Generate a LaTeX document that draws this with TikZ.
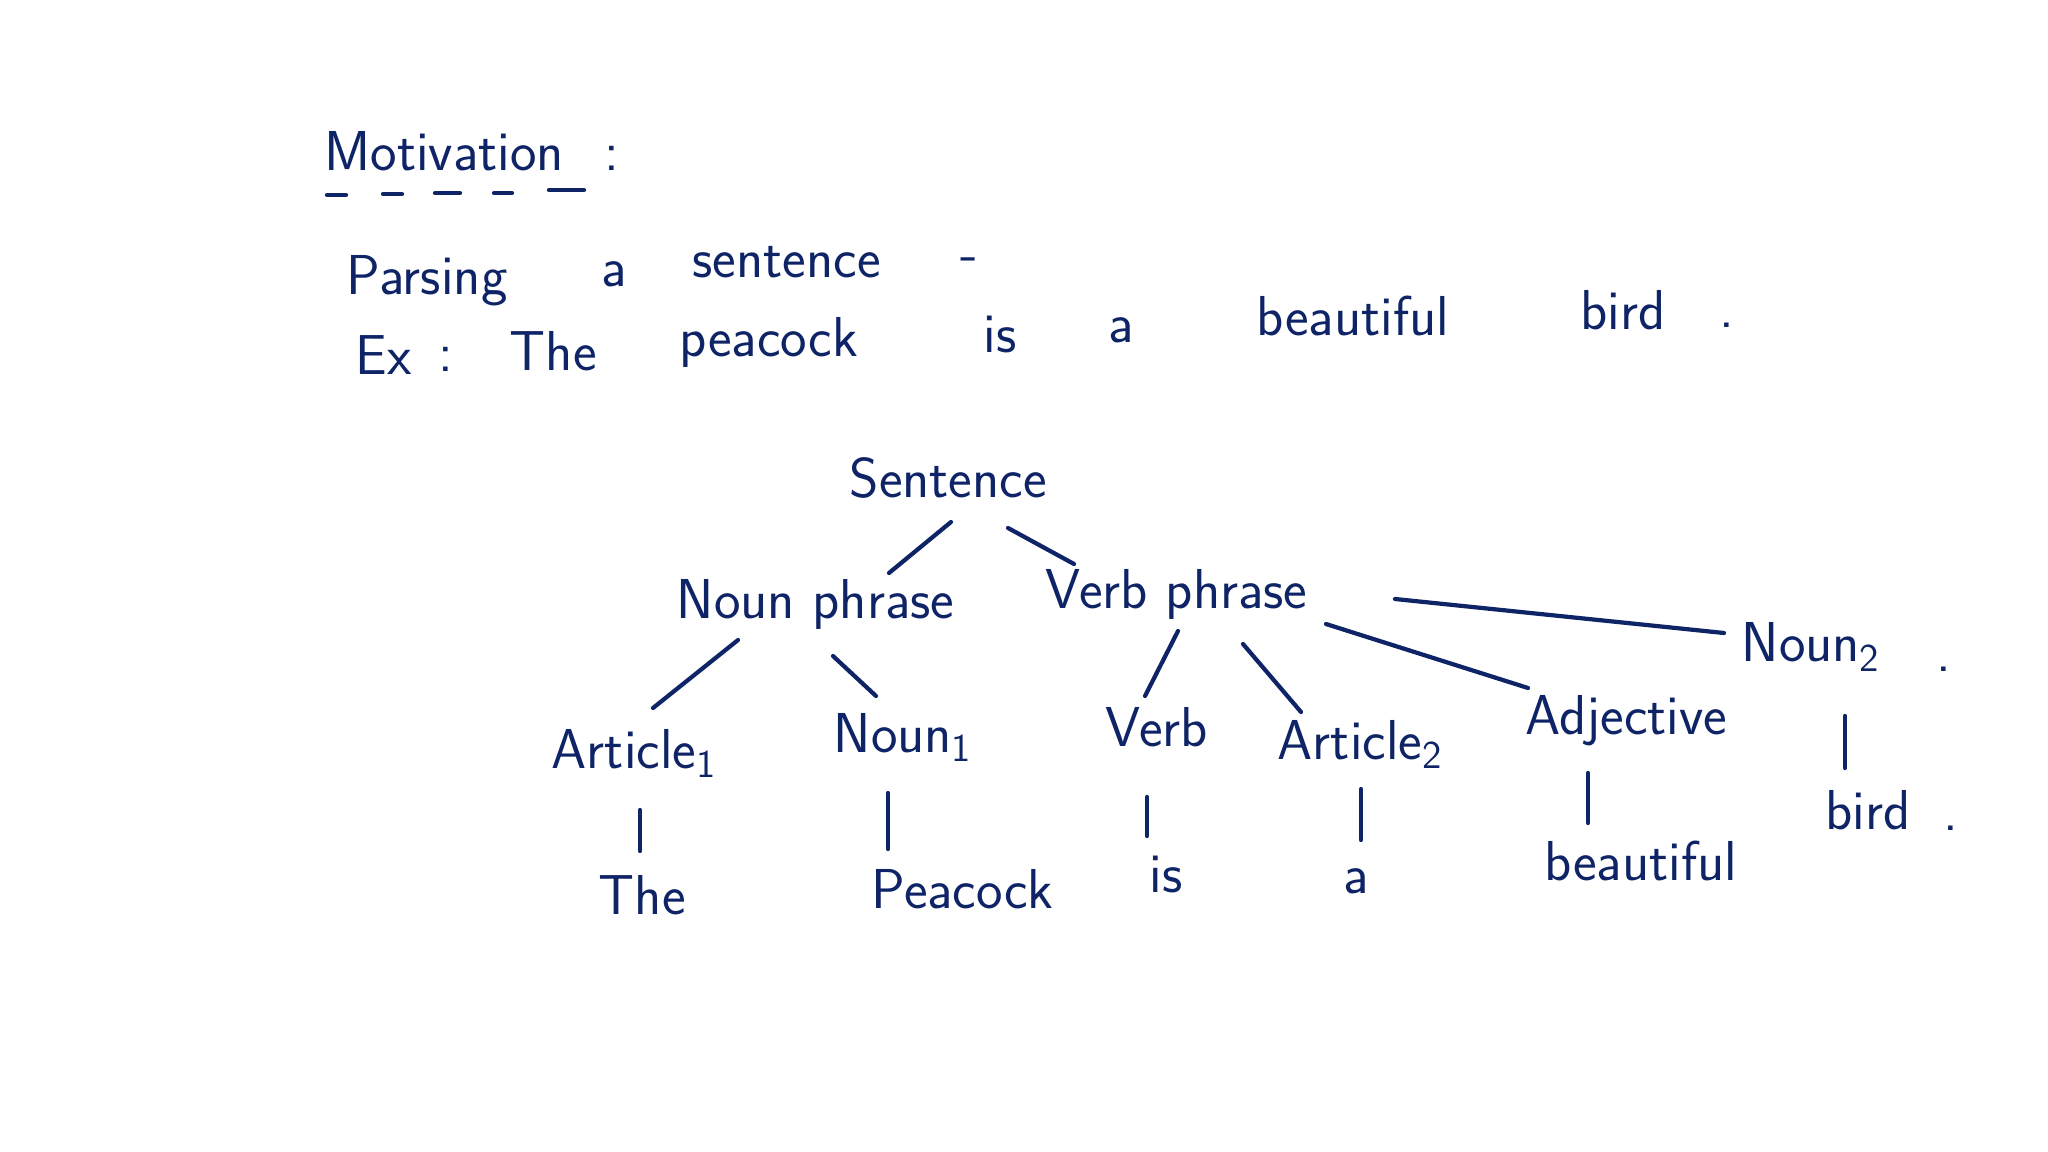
\documentclass[tikz,border=0pt]{standalone}
\usepackage{fontspec}
\usepackage{xcolor}
\definecolor{ink}{RGB}{14,36,102}

\begin{document}
\begin{tikzpicture}[x=0.01cm,y=-0.01cm,
    word/.style={anchor=base west,inner sep=0pt,text=ink,font=\sffamily\fontsize{16}{19}\selectfont},
    branch/.style={draw=ink,line width=1.2pt,line cap=round}]
  \fill[white] (0,0) rectangle (2048,1152);
  \useasboundingbox (0,0) rectangle (2048,1152);

  % heading
  \node[word] (mot) at (324,171) {Motivation};
  \node[word] (motcol) at (604,171) {:};
  \foreach \a/\b/\y in {327/346/195,383/402/194,435/460/193,494/512/193,549/584/190}
    \draw[branch] (\a,\y) -- (\b,\y);

  % sentence lines
  \foreach \w/\x/\y [count=\i] in {Parsing/346/295,a/601/287,sentence/692/278,-/960/272}
    \node[word] (pars\i) at (\x,\y) {\w};
  \foreach \w/\x/\y [count=\i] in {Ex/355/375,:/438/372,The/509/371,peacock/679/357,
      is/983/353,a/1108/343,beautiful/1256/336,bird/1580/330,./1719/328}
    \node[word] (ex\i) at (\x,\y) {\w};

  % parse tree
  \node[word] (sent) at (849,498) {Sentence};
  \node[word] (np) at (676,619) {Noun phrase};
  \node[word] (vp) at (1045,609) {Verb phrase};
  \node[word] (art1) at (551,768) {Article\textsubscript{1}};
  \node[word] (noun1) at (833,752) {Noun\textsubscript{1}};
  \node[word] (verb) at (1105,746) {Verb};
  \node[word] (art2) at (1277,759) {Article\textsubscript{2}};
  \node[word] (adj) at (1525,734) {Adjective};
  \node[word] (noun2) at (1741,662) {Noun\textsubscript{2}};
  \node[word] (noun2dot) at (1936,671) {.};
  \node[word] (the) at (598,914) {The};
  \node[word] (peacock) at (871,908) {Peacock};
  \node[word] (is) at (1149,892) {is};
  \node[word] (a) at (1343,893) {a};
  \node[word] (beautiful) at (1544,880) {beautiful};
  \node[word] (bird) at (1825,829) {bird};
  \node[word] (birddot) at (1943,830) {.};

  \draw[branch] ([shift={(102,24)}]sent.base west) -- ([shift={(213,-46)}]np.base west);
  \draw[branch] ([shift={(159,30)}]sent.base west) -- ([shift={(29,-45)}]vp.base west);
  \draw[branch] ([shift={(62,21)}]np.base west) -- ([shift={(102,-60)}]art1.base west);
  \draw[branch] ([shift={(157,37)}]np.base west) -- ([shift={(43,-56)}]noun1.base west);
  \draw[branch] ([shift={(133,22)}]vp.base west) -- ([shift={(40,-50)}]verb.base west);
  \draw[branch] ([shift={(198,35)}]vp.base west) -- ([shift={(24,-47)}]art2.base west);
  \draw[branch] ([shift={(281,15)}]vp.base west) -- ([shift={(3,-46)}]adj.base west);
  \draw[branch] ([shift={(350,-10)}]vp.base west) -- ([shift={(-17,-29)}]noun2.base west);

  \draw[branch] ([shift={(89,42)}]art1.base west) -- ([shift={(42,-63)}]the.base west);
  \draw[branch] ([shift={(55,41)}]noun1.base west) -- ([shift={(17,-59)}]peacock.base west);
  \draw[branch] ([shift={(42,51)}]verb.base west) -- ([shift={(-2,-56)}]is.base west);
  \draw[branch] ([shift={(84,30)}]art2.base west) -- ([shift={(18,-53)}]a.base west);
  \draw[branch] ([shift={(63,39)}]adj.base west) -- ([shift={(44,-57)}]beautiful.base west);
  \draw[branch] ([shift={(104,54)}]noun2.base west) -- ([shift={(20,-61)}]bird.base west);
\end{tikzpicture}
\end{document}
